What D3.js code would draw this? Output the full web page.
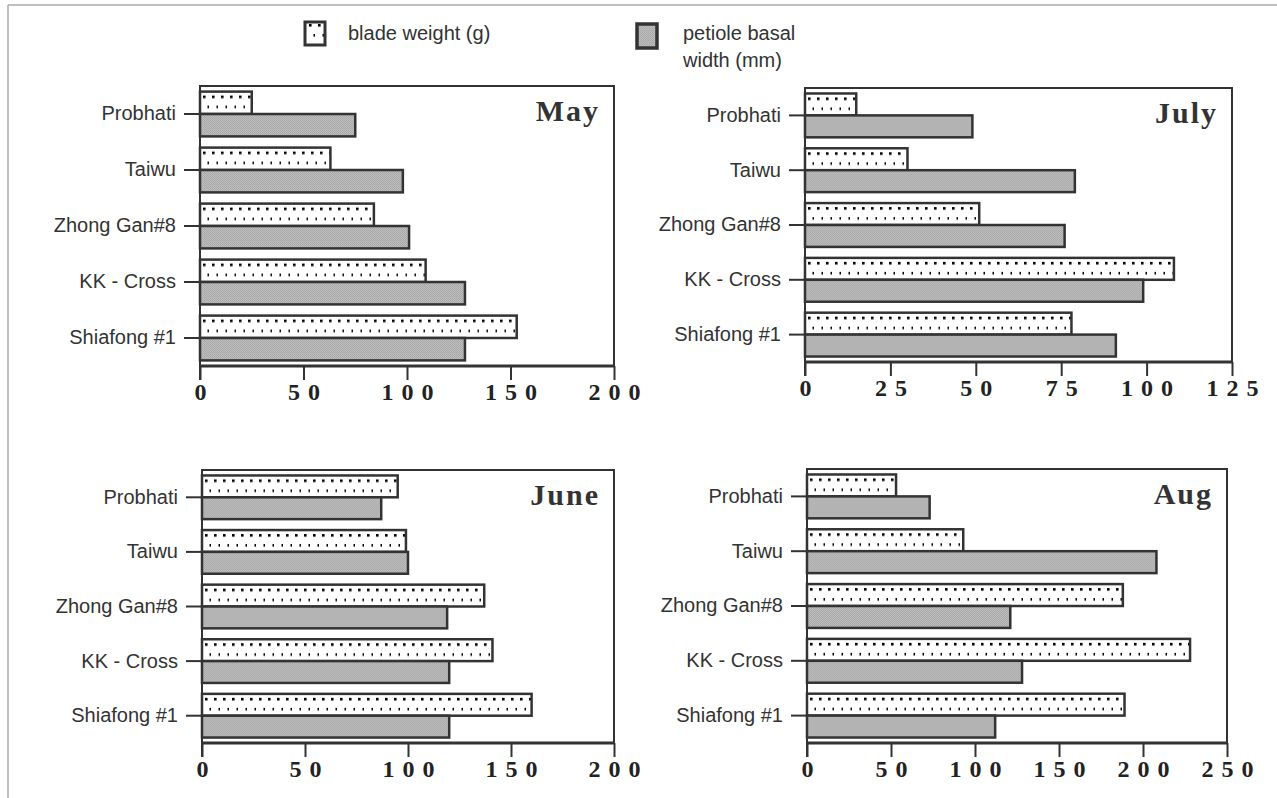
<!DOCTYPE html>
<html>
<head>
<meta charset="utf-8">
<script src="https://cdn.jsdelivr.net/npm/d3@7/dist/d3.min.js"></script>
<style>
  html, body { margin: 0; padding: 0; background: #fff; }
  svg { display: block; }
</style>
</head>
<body>
<svg id="chart" width="1277" height="798"></svg>
<script>
// ---------- data ----------
const categories = ["Probhati", "Taiwu", "Zhong Gan#8", "KK - Cross", "Shiafong #1"];
const seriesNames = ["blade weight (g)", "petiole basal width (mm)"];

const mayBlade    = [25, 63, 84, 109, 153];
const mayPetiole  = [75, 98, 101, 128, 128];
const juneBlade   = [95, 99, 137, 141, 160];
const junePetiole = [87, 100, 119, 120, 120];
const julyBlade   = [15, 30, 51, 108, 78];
const julyPetiole = [49, 79, 76, 99, 91];
const augBlade    = [53, 93, 188, 228, 189];
const augPetiole  = [73, 208, 121, 128, 112];

const mayTicks  = [0, 50, 100, 150, 200];
const juneTicks = [0, 50, 100, 150, 200];
const julyTicks = [0, 25, 50, 75, 100, 125];
const augTicks  = [0, 50, 100, 150, 200, 250];

// ---------- layout ----------
const panels = [
  { title: "May",  blade: mayBlade,  petiole: mayPetiole,  ticks: mayTicks,  box: { l: 200, r: 614, t: 86,  b: 366 } },
  { title: "July", blade: julyBlade, petiole: julyPetiole, ticks: julyTicks, box: { l: 805, r: 1232, t: 88, b: 362 } },
  { title: "June", blade: juneBlade, petiole: junePetiole, ticks: juneTicks, box: { l: 202, r: 614, t: 470, b: 743 } },
  { title: "Aug",  blade: augBlade,  petiole: augPetiole,  ticks: augTicks,  box: { l: 807, r: 1227, t: 469, b: 743 } }
];

const svg = d3.select("#chart");
const ink = "#333";

// patterns
const defs = svg.append("defs");
const dots = defs.append("pattern").attr("id", "dots")
  .attr("patternUnits", "userSpaceOnUse").attr("width", 9).attr("height", 20);
dots.append("rect").attr("width", 9).attr("height", 20).attr("fill", "#fff");
dots.append("rect").attr("x", 3).attr("y", 4).attr("width", 2.6).attr("height", 2.6).attr("fill", "#000");
dots.append("rect").attr("x", 7.5).attr("y", 14).attr("width", 2.6).attr("height", 2.6).attr("fill", "#000");

const grain = defs.append("pattern").attr("id", "grain")
  .attr("patternUnits", "userSpaceOnUse").attr("width", 2).attr("height", 2);
grain.append("rect").attr("width", 2).attr("height", 2).attr("fill", "#bdbdbd");
grain.append("rect").attr("width", 1).attr("height", 1).attr("fill", "#a8a8a8");
grain.append("rect").attr("x", 1).attr("y", 1).attr("width", 1).attr("height", 1).attr("fill", "#ababab");

// outer page border (scan edge)
svg.append("line").attr("x1", 8).attr("y1", 5).attr("x2", 1277).attr("y2", 5)
  .attr("stroke", "#aaa").attr("stroke-width", 1.5);
svg.append("line").attr("x1", 8).attr("y1", 5).attr("x2", 8).attr("y2", 798)
  .attr("stroke", "#aaa").attr("stroke-width", 1.5);

// legend
const legend = svg.append("g");
legend.append("rect").attr("x", 305).attr("y", 22).attr("width", 20).attr("height", 23)
  .attr("fill", "url(#dots)").attr("stroke", ink).attr("stroke-width", 3);
legend.append("text").attr("x", 348).attr("y", 40).text(seriesNames[0])
  .attr("font-family", "Liberation Sans, Arial, sans-serif").attr("font-size", 20).attr("fill", ink);
legend.append("rect").attr("x", 637).attr("y", 24).attr("width", 20).attr("height", 24)
  .attr("fill", "url(#grain)").attr("stroke", ink).attr("stroke-width", 3.5);
const lt = legend.append("text").attr("x", 683).attr("y", 40)
  .attr("font-family", "Liberation Sans, Arial, sans-serif").attr("font-size", 20).attr("fill", ink);
lt.append("tspan").attr("x", 683).text("petiole basal");
lt.append("tspan").attr("x", 683).attr("dy", 27).text("width (mm)");

// panels
panels.forEach(p => {
  const { l, r, t, b } = p.box;
  const g = svg.append("g");
  const x = d3.scaleLinear().domain([p.ticks[0], p.ticks[p.ticks.length - 1]]).range([l, r]);
  const y = d3.scaleBand().domain(categories).range([t, b]).paddingInner(0.2).paddingOuter(0.1);
  const sub = d3.scaleBand().domain(["blade", "petiole"]).range([0, y.bandwidth()]);

  // frame (top & right)
  g.append("path").attr("d", `M${l},${t}H${r}V${b}`).attr("fill", "none")
    .attr("stroke", ink).attr("stroke-width", 2);

  // bars
  const rows = categories.map((c, i) => ({ c, blade: p.blade[i], petiole: p.petiole[i] }));
  rows.forEach(d => {
    ["blade", "petiole"].forEach(k => {
      const bg = g.append("g").attr("transform", `translate(${x(0)},${y(d.c) + sub(k)})`);
      bg.append("rect").attr("x", 0).attr("y", 0)
        .attr("width", x(d[k]) - x(0)).attr("height", sub.bandwidth())
        .attr("fill", k === "blade" ? "url(#dots)" : "url(#grain)")
        .attr("stroke", ink).attr("stroke-width", 2.5);
    });
  });

  // x axis
  const xa = g.append("g").attr("transform", `translate(0,${b})`)
    .call(d3.axisBottom(x).tickValues(p.ticks).tickSize(14).tickPadding(3).tickFormat(d => String(d)));
  xa.select(".domain").remove();
  xa.append("line").attr("x1", l - 1).attr("x2", r + 1).attr("y1", 0).attr("y2", 0)
    .attr("stroke", ink).attr("stroke-width", 3);
  xa.selectAll(".tick line").attr("stroke", ink).attr("stroke-width", 2);
  xa.selectAll(".tick text")
    .attr("font-family", "Liberation Serif, Times New Roman, serif")
    .attr("font-weight", "bold").attr("font-size", 24).attr("fill", "#222")
    .attr("letter-spacing", "8px").attr("dx", "4px");

  // y axis
  const ya = g.append("g").attr("transform", `translate(${l},0)`)
    .call(d3.axisLeft(y).tickSize(16).tickPadding(8));
  ya.select(".domain").remove();
  ya.append("line").attr("x1", 0).attr("x2", 0).attr("y1", t - 1).attr("y2", b + 14)
    .attr("stroke", ink).attr("stroke-width", 2);
  ya.selectAll(".tick line").attr("stroke", ink).attr("stroke-width", 2);
  ya.selectAll(".tick text")
    .attr("font-family", "Liberation Sans, Arial, sans-serif")
    .attr("font-size", 20).attr("fill", ink);

  // title
  g.append("text").attr("x", r - 14).attr("y", t + 35).attr("text-anchor", "end")
    .attr("font-family", "Liberation Serif, Times New Roman, serif")
    .attr("font-weight", "bold").attr("font-size", 30).attr("letter-spacing", "2px")
    .attr("fill", ink).text(p.title);
});
</script>
</body>
</html>
